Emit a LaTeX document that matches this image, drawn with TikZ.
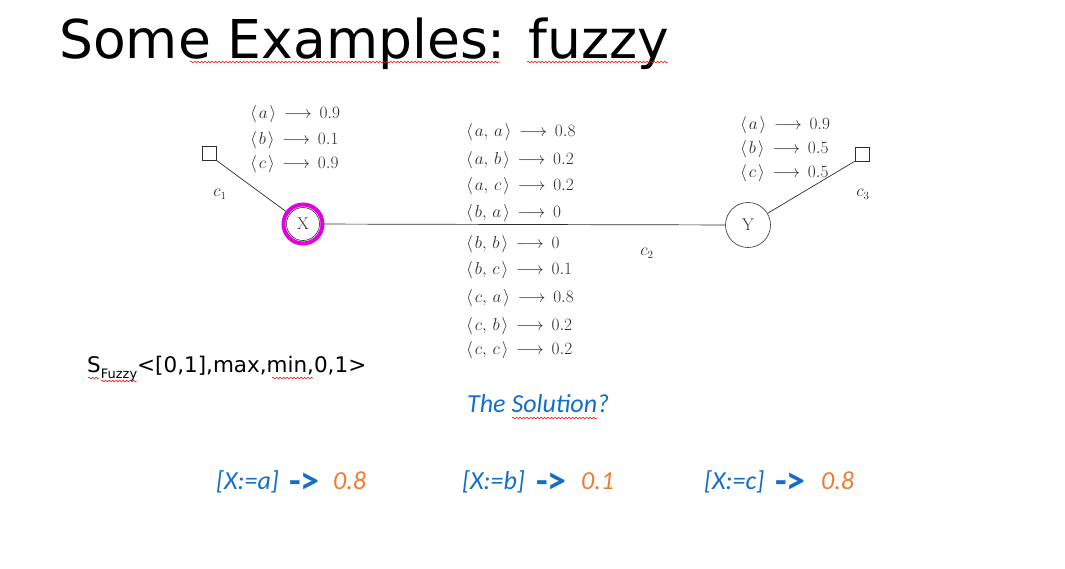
\documentclass[tikz,border=0pt]{standalone}
\usepackage{fontspec}
\usepackage{amsmath}
\usetikzlibrary{decorations.pathmorphing}
\newfontfamily\titlefont{DejaVu Sans}
\newfontfamily\handfont{Carlito}
\definecolor{solblue}{RGB}{20,110,200}
\definecolor{solorange}{RGB}{237,125,49}
\definecolor{ringpink}{RGB}{225,0,225}
\definecolor{ink}{RGB}{45,45,45}
% one entry of a constraint table: <tuple> -> value
\newcommand\maprow[2]{$\langle\mkern2mu #1\mkern2mu\rangle \,\longrightarrow\, #2$}
\newcommand\pairsep{,\mkern3mu}

\begin{document}
\begin{tikzpicture}[x=1pt,y=-1pt,
  tbl/.style={anchor=base west, inner sep=0pt, font=\fontsize{16}{18}\selectfont, text=ink},
  clab/.style={inner sep=0pt, font=\fontsize{16}{18}\selectfont, text=ink},
  var/.style={circle, draw=ink, line width=0.6pt, inner sep=0pt, font=\fontsize{17}{18}\selectfont, text=ink},
  unary/.style={draw=ink, minimum size=14pt, inner sep=0pt, line width=0.6pt},
  edge/.style={draw=ink, line width=0.7pt},
  spell/.style={draw=red, line width=0.5pt, decorate, decoration={snake, amplitude=0.8pt, segment length=3.5pt}},
  hand/.style={anchor=base west, inner sep=0pt, font=\handfont\itshape\fontsize{26}{28}\selectfont, text=solblue},
  harrow/.style={anchor=base west, inner sep=0pt, font=\handfont\bfseries\fontsize{38}{40}\selectfont, text=solblue},
  hval/.style={anchor=base west, inner sep=0pt, font=\handfont\itshape\fontsize{26}{28}\selectfont, text=solorange}]
\useasboundingbox (0,0) rectangle (1065,568);

% title
\node[anchor=base west, inner sep=0pt, font=\titlefont\fontsize{53.5}{60}\selectfont] (title) at (59,58) {Some Examples: fuzzy};
\draw[spell] (190,62) -- (500,62);
\draw[spell] (527,62) -- (668,62);

% constraint graph
\node[var, minimum size=33pt] (X) at (303,224) {X};
\node[var, minimum size=45pt] (Y) at (748,225) {Y};
\node[unary] (c1) at (209,153) {};
\node[unary] (c3) at (862,154) {};
\draw[edge] (X) -- (Y);
\draw[edge] (c1.south east) -- (X);
\draw[edge] (c3.south west) -- (Y);
\draw[ringpink, line width=4pt] (X.center) circle (19.5);

\node[clab] (l1) at (220,194) {$c_1$};
\node[clab] (l2) at (647,253) {$c_2$};
\node[clab] (l3) at (863,194) {$c_3$};

% unary constraint c1
\node[tbl] (u1a) at (250,118) {\maprow{a}{0.9}};
\node[tbl] (u1b) at (250,144) {\maprow{b}{0.1}};
\node[tbl] (u1c) at (250,168) {\maprow{c}{0.9}};

% binary constraint c2
\node[tbl] (b1) at (466,136) {\maprow{a\pairsep a}{0.8}};
\node[tbl] (b2) at (466,164) {\maprow{a\pairsep b}{0.2}};
\node[tbl] (b3) at (466,190) {\maprow{a\pairsep c}{0.2}};
\node[tbl] (b4) at (466,217) {\maprow{b\pairsep a}{0}};
\node[tbl] (b5) at (466,248) {\maprow{b\pairsep b}{0}};
\node[tbl] (b6) at (466,274) {\maprow{b\pairsep c}{0.1}};
\node[tbl] (b7) at (466,302) {\maprow{c\pairsep a}{0.8}};
\node[tbl] (b8) at (466,330) {\maprow{c\pairsep b}{0.2}};
\node[tbl] (b9) at (466,354) {\maprow{c\pairsep c}{0.2}};

% unary constraint c3
\node[tbl] (u3a) at (740,129) {\maprow{a}{0.9}};
\node[tbl] (u3b) at (740,153) {\maprow{b}{0.5}};
\node[tbl] (u3c) at (740,177) {\maprow{c}{0.5}};

% semiring
\node[anchor=base west, inner sep=0pt, font=\titlefont\fontsize{21.5}{24}\selectfont] (S) at (87,372)
  {S\raisebox{-0.3em}{\fontsize{13}{15}\selectfont Fuzzy}<[0,1],max,min,0,1>};
\draw[spell] (88,378) -- (99,378);
\draw[spell] (101,381) -- (137,381);
\draw[spell] (272,378) -- (313,378);

% solutions
\node[hand] (q) at (467,412) {The Solution?};
\draw[spell] (512,418) -- (598,418);

\node[hand] (s1) at (216,489) {[X:=a]};
\node[harrow] (a1) at (289,493) {->};
\node[hval] (v1) at (333,489) {0.8};
\node[hand] (s2) at (462,489) {[X:=b]};
\node[harrow] (a2) at (536,493) {->};
\node[hval] (v2) at (581,489) {0.1};
\node[hand] (s3) at (704,489) {[X:=c]};
\node[harrow] (a3) at (775,493) {->};
\node[hval] (v3) at (821,489) {0.8};
\end{tikzpicture}
\end{document}
